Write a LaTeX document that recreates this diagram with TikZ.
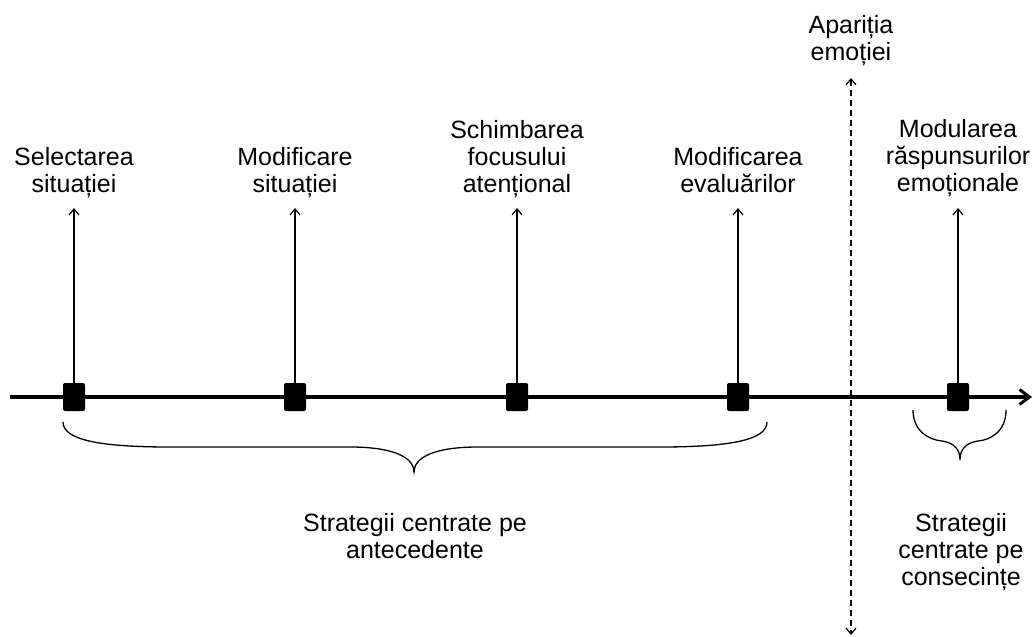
\documentclass[tikz,border=0pt]{standalone}
\usepackage{fontspec}
\setmainfont{Liberation Sans}
\usetikzlibrary{arrows.meta}
\begin{document}
\begin{tikzpicture}[x=1pt,y=-1pt,
  lbl/.style={font=\fontsize{25}{27}\selectfont, align=center, inner sep=0pt, anchor=north},
  sq/.style={rectangle, fill=black, minimum width=22pt, minimum height=28pt, inner sep=0pt, rounded corners=2pt},
  up/.style={line width=1.3pt, -{Straight Barb[length=6pt,width=10pt,line width=1.2pt]}},
  axis/.style={line width=3.6pt, -{Straight Barb[length=10pt,width=15pt,line width=3pt]}},
  dsh/.style={line width=1.2pt, dash pattern=on 6pt off 4pt,
     {Straight Barb[length=6pt,width=10pt,line width=1.2pt]}-{Straight Barb[length=6pt,width=10pt,line width=1.2pt]}},
  br/.style={line width=1.3pt}
]
\useasboundingbox (0,0) rectangle (1036,637);

% axis
\coordinate (a0) at (10,397);
\coordinate (a1) at (1032,397);
\draw[axis] (a0) -- (a1);

% squares
\node[sq] (s1) at (74,397) {};
\node[sq] (s2) at (295,397) {};
\node[sq] (s3) at (517,397) {};
\node[sq] (s4) at (738,397) {};
\node[sq] (s5) at (958,397) {};

% arrow tips
\coordinate (t1) at (74,208);
\coordinate (t2) at (295,208);
\coordinate (t3) at (517,208);
\coordinate (t4) at (738,208);
\coordinate (t5) at (958,208);
\foreach \i in {1,...,5}{\draw[up] (s\i.north) -- (t\i);}

% labels
\node[lbl] (l1) at (74,147) {Selectarea\\situației};
\node[lbl] (l2) at (295,147) {Modificare\\situației};
\node[lbl] (l3) at (517,120) {Schimbarea\\focusului\\atențional};
\node[lbl] (l4) at (738,147) {Modificarea\\evaluărilor};
\node[lbl] (l5) at (958,119) {Modularea\\răspunsurilor\\emoționale};
\node[lbl] (l6) at (851,15) {Apariția\\emoției};

% dashed line
\coordinate (d0) at (851,78);
\coordinate (d1) at (851,635);
\draw[dsh] (d0) -- (d1);

% braces
\draw[br] (63,422) .. controls (63,440) and (100,447) .. (170,447) -- (350,447)
  .. controls (395,447) and (414,458) .. (414,472)
  .. controls (414,458) and (433,447) .. (478,447) -- (660,447)
  .. controls (730,447) and (767,440) .. (767,422);
\draw[br] (913,410) .. controls (913,432) and (930,440) .. (942,441)
  .. controls (955,443) and (960,450) .. (960,460)
  .. controls (960,450) and (965,443) .. (978,441)
  .. controls (990,440) and (1006,432) .. (1006,410);

\node[lbl] (b1) at (415,513) {Strategii centrate pe\\antecedente};
\node[lbl] (b2) at (961,513) {Strategii\\centrate pe\\consecințe};
\end{tikzpicture}
\end{document}
